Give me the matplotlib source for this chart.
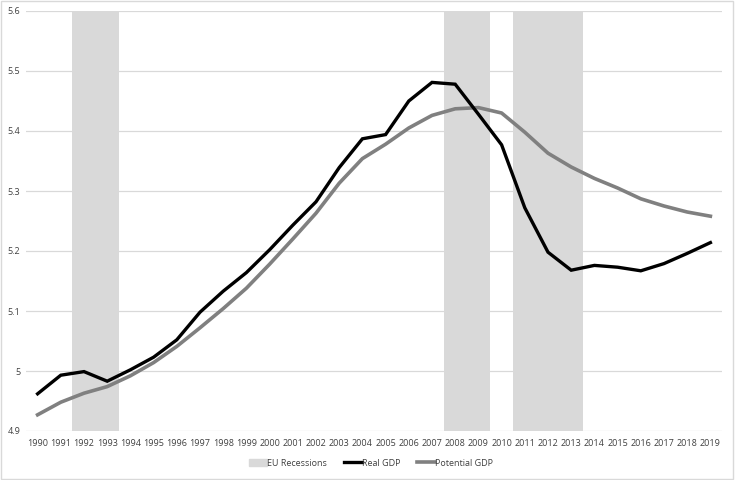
import numpy as np
import matplotlib
matplotlib.use("Agg")
import matplotlib.pyplot as plt
from matplotlib.patches import Patch, Rectangle
from matplotlib.lines import Line2D

years = list(range(1990, 2020))
real_gdp = [4.962, 4.993, 4.999, 4.983, 5.002, 5.023, 5.052, 5.098, 5.133, 5.164,
            5.202, 5.243, 5.282, 5.339, 5.387, 5.394, 5.450, 5.481, 5.478, 5.428,
            5.377, 5.272, 5.198, 5.168, 5.176, 5.173, 5.167, 5.179, 5.196, 5.214]
potential_gdp = [4.927, 4.948, 4.963, 4.974, 4.992, 5.014, 5.041, 5.072, 5.104, 5.138,
                 5.178, 5.220, 5.263, 5.313, 5.354, 5.378, 5.405, 5.426, 5.437, 5.439,
                 5.430, 5.398, 5.363, 5.340, 5.321, 5.305, 5.287, 5.275, 5.265, 5.258]
recession_years = [1992, 1993, 2008, 2009, 2011, 2012, 2013]
y_ticks = [4.9, 5.0, 5.1, 5.2, 5.3, 5.4, 5.5, 5.6]
y_labels = ["4.9", "5", "5.1", "5.2", "5.3", "5.4", "5.5", "5.6"]

plt.rcParams['font.family'] = ['Open Sans', 'DejaVu Sans']

fig = plt.figure(figsize=(7.35, 4.8), dpi=100)
ax = fig.add_axes([26 / 735, 1 - 431 / 480, (722 - 26) / 735, 420 / 480])

x = np.arange(len(years))
rec_idx = [years.index(y) for y in recession_years]
ax.bar(rec_idx, [y_ticks[-1] - y_ticks[0]] * len(rec_idx), bottom=y_ticks[0],
       width=1.0, color="#d9d9d9", zorder=1)
ax.plot(x, real_gdp, color="black", lw=2.4, zorder=3, solid_joinstyle="miter")
ax.plot(x, potential_gdp, color="#808080", lw=2.6, zorder=2)

ax.set_xlim(-0.5, len(years) - 0.5)
ax.set_ylim(y_ticks[0], y_ticks[-1])
ax.set_yticks(y_ticks)
ax.set_yticklabels(y_labels)
ax.set_xticks(x)
ax.set_xticklabels([str(y) for y in years])
ax.grid(axis="y", color="#d9d9d9", lw=0.9, zorder=0)
ax.set_axisbelow(True)
for s in ax.spines.values():
    s.set_visible(False)
ax.tick_params(length=0, labelsize=6.5, colors="#404040", pad=6)
ax.tick_params(axis="y", pad=4)

handles = [Patch(color="#d9d9d9", label="EU Recessions"),
           Line2D([], [], color="black", lw=2.4, label="Real GDP"),
           Line2D([], [], color="#808080", lw=2.6, label="Potential GDP")]
fig.legend(handles=handles, loc="center", bbox_to_anchor=(0.505, 1 - 463 / 480),
           ncol=3, frameon=False, fontsize=6.5, handlelength=2.0,
           handletextpad=0.05, columnspacing=1.8, labelcolor="#404040")

fig.add_artist(Rectangle((0.002, 0.002), 0.995, 0.995, transform=fig.transFigure,
                         fill=False, edgecolor="#d9d9d9", lw=1))

fig.savefig("out.png", dpi=100)
